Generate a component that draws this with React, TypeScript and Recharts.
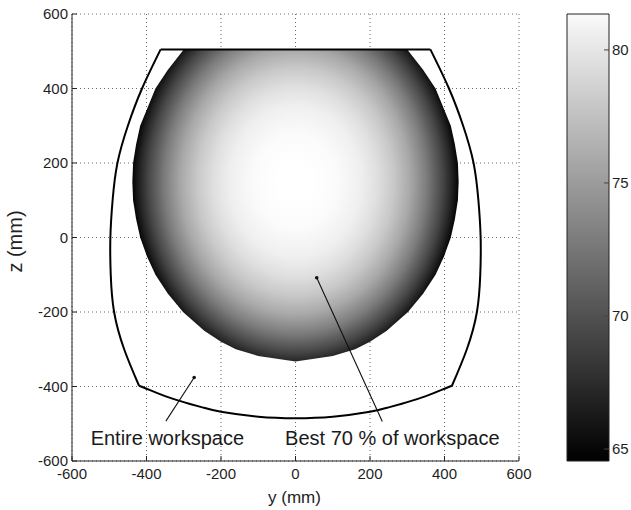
import React from "react";
import {
  ScatterChart,
  Scatter,
  XAxis,
  YAxis,
  CartesianGrid,
  BarChart,
  Bar,
} from "recharts";

const FONT = "'Liberation Sans', Arial, Helvetica, sans-serif";

// axes
const axisTicks = [-600, -400, -200, 0, 200, 400, 600];
const colorTicks = [65, 70, 75, 80];
const colorRange: [number, number] = [64.55, 81.35];

// outline of the entire workspace (y, z in mm)
const outlineTop = [
  { y: -362, z: 505 },
  { y: 362, z: 505 },
];
const outlineRight = [
  { y: 362, z: 505 },
  { y: 412, z: 400 },
  { y: 450, z: 300 },
  { y: 478, z: 200 },
  { y: 491, z: 100 },
  { y: 497, z: 0 },
  { y: 496, z: -100 },
  { y: 487, z: -200 },
  { y: 460, z: -300 },
  { y: 420, z: -398 },
];
const outlineBottom = [
  { y: 420, z: -398 },
  { y: 400, z: -406 },
  { y: 350, z: -426 },
  { y: 300, z: -442 },
  { y: 250, z: -456 },
  { y: 200, z: -468 },
  { y: 100, z: -481 },
  { y: 0, z: -485 },
  { y: -100, z: -481 },
  { y: -200, z: -468 },
  { y: -250, z: -456 },
  { y: -300, z: -442 },
  { y: -350, z: -426 },
  { y: -400, z: -406 },
  { y: -420, z: -398 },
];
const outlineLeft = [
  { y: -420, z: -398 },
  { y: -460, z: -300 },
  { y: -487, z: -200 },
  { y: -496, z: -100 },
  { y: -497, z: 0 },
  { y: -491, z: 100 },
  { y: -478, z: 200 },
  { y: -450, z: 300 },
  { y: -412, z: 400 },
  { y: -362, z: 505 },
];

// best 70 % region boundary
const bestRegion = [
  { y: -300, z: 505 },
  { y: 300, z: 505 },
  { y: 343, z: 450 },
  { y: 376, z: 400 },
  { y: 417, z: 300 },
  { y: 428, z: 250 },
  { y: 436, z: 200 },
  { y: 438, z: 150 },
  { y: 436, z: 100 },
  { y: 428, z: 50 },
  { y: 417, z: 0 },
  { y: 399, z: -50 },
  { y: 376, z: -100 },
  { y: 343, z: -150 },
  { y: 302, z: -200 },
  { y: 245, z: -250 },
  { y: 200, z: -280 },
  { y: 160, z: -300 },
  { y: 100, z: -318 },
  { y: 0, z: -333 },
  { y: -100, z: -318 },
  { y: -160, z: -300 },
  { y: -200, z: -280 },
  { y: -245, z: -250 },
  { y: -302, z: -200 },
  { y: -343, z: -150 },
  { y: -376, z: -100 },
  { y: -399, z: -50 },
  { y: -417, z: 0 },
  { y: -428, z: 50 },
  { y: -436, z: 100 },
  { y: -438, z: 150 },
  { y: -436, z: 200 },
  { y: -428, z: 250 },
  { y: -417, z: 300 },
  { y: -376, z: 400 },
  { y: -343, z: 450 },
  { y: -300, z: 505 },
];

// value falloff from the brightest point (fraction of radius -> value)
const heatCenter = { y: 0, z: 150 };
const heatRadius = { y: 440, z: 510 };
const heatStops = [
  { t: 0, v: 81.35 },
  { t: 0.1, v: 81.33 },
  { t: 0.25, v: 81.08 },
  { t: 0.4, v: 80.28 },
  { t: 0.5, v: 79.25 },
  { t: 0.6, v: 77.72 },
  { t: 0.7, v: 75.59 },
  { t: 0.8, v: 72.75 },
  { t: 0.9, v: 69.1 },
  { t: 0.95, v: 66.95 },
  { t: 1, v: 64.55 },
];

// annotations
const entireArrow = [
  { y: -348, z: -493 },
  { y: -272, z: -376 },
];
const bestArrow = [
  { y: 57, z: -108 },
  { y: 233, z: -494 },
];
const arrowTips = [
  { y: -272, z: -376 },
  { y: 57, z: -108 },
];
const notes = [
  { y: -550, z: -557, text: "Entire workspace" },
  { y: -28, z: -557, text: "Best 70 % of workspace" },
];

const colorBar = [{ name: "value", range: colorRange }];

const gray = (v: number) => {
  const f = (v - colorRange[0]) / (colorRange[1] - colorRange[0]);
  const g = Math.round(Math.max(0, Math.min(1, f)) * 255);
  return `rgb(${g},${g},${g})`;
};

const NoDot = () => <g />;
const TipDot = (p: any) => <circle cx={p.cx} cy={p.cy} r={1.8} fill="#111" />;
const NoteText = (p: any) => (
  <text x={p.cx} y={p.cy} fontSize={20} fontFamily={FONT} fill="#1a1a1a">
    {p.payload.text}
  </text>
);

const tickStyle = { fontSize: 15, fill: "#1f1f1f", fontFamily: FONT };
const outlineLine = { stroke: "#000", strokeWidth: 2, fill: "none" };
const arrowLine = { stroke: "#111", strokeWidth: 1.1, fill: "none" };

export default function App() {
  const ys = bestRegion.map((p) => p.y);
  const zs = bestRegion.map((p) => p.z);
  const minY = Math.min(...ys);
  const maxY = Math.max(...ys);
  const minZ = Math.min(...zs);
  const maxZ = Math.max(...zs);
  const gcx = (heatCenter.y - minY) / (maxY - minY);
  const gcy = (maxZ - heatCenter.z) / (maxZ - minZ);
  const gsx = heatRadius.y / (maxY - minY);
  const gsy = heatRadius.z / (maxZ - minZ);

  return (
    <div
      style={{
        position: "absolute",
        left: 0,
        top: 0,
        width: 631,
        height: 510,
        background: "#fff",
        fontFamily: FONT,
      }}
    >
      <div style={{ position: "absolute", left: 0, top: 0 }}>
        <ScatterChart
          width={540}
          height={510}
          margin={{ top: 14, right: 21, bottom: 0, left: 0 }}
        >
          <defs>
            <radialGradient
              id="heat"
              cx="0"
              cy="0"
              r="1"
              gradientTransform={`translate(${gcx} ${gcy}) scale(${gsx} ${gsy})`}
            >
              {heatStops.map((s) => (
                <stop key={s.t} offset={s.t} stopColor={gray(s.v)} />
              ))}
            </radialGradient>
          </defs>
          <CartesianGrid stroke="#666" strokeDasharray="1 3" />
          <XAxis
            type="number"
            dataKey="y"
            domain={[-600, 600]}
            ticks={axisTicks}
            height={49}
            stroke="#222"
            tick={tickStyle}
            tickSize={-5}
            tickMargin={12}
            label={(p: any) => (
              <text
                x={p.viewBox.x + p.viewBox.width / 2 - 1}
                y={p.viewBox.y + 42}
                textAnchor="middle"
                fontSize={17}
                fontFamily={FONT}
                fill="#222"
              >
                y (mm)
              </text>
            )}
          />
          <YAxis
            type="number"
            dataKey="z"
            domain={[-600, 600]}
            ticks={axisTicks}
            width={72}
            stroke="#222"
            tick={tickStyle}
            tickSize={-5}
            tickMargin={9}
            label={(p: any) => {
              const cx = p.viewBox.x + 22;
              const cy = p.viewBox.y + p.viewBox.height / 2 + 4;
              return (
                <text
                  x={cx}
                  y={cy}
                  transform={`rotate(-90 ${cx} ${cy})`}
                  textAnchor="middle"
                  fontSize={20}
                  fontFamily={FONT}
                  fill="#222"
                >
                  z (mm)
                </text>
              );
            }}
          />
          <Scatter
            data={bestRegion}
            shape={NoDot}
            line={{ fill: "url(#heat)", stroke: "none" }}
            isAnimationActive={false}
          />
          <Scatter data={outlineTop} shape={NoDot} line={outlineLine} isAnimationActive={false} />
          <Scatter
            data={outlineRight}
            shape={NoDot}
            line={outlineLine}
            lineJointType="natural"
            isAnimationActive={false}
          />
          <Scatter
            data={outlineBottom}
            shape={NoDot}
            line={outlineLine}
            lineJointType="natural"
            isAnimationActive={false}
          />
          <Scatter
            data={outlineLeft}
            shape={NoDot}
            line={outlineLine}
            lineJointType="natural"
            isAnimationActive={false}
          />
          <Scatter data={entireArrow} shape={NoDot} line={arrowLine} isAnimationActive={false} />
          <Scatter data={bestArrow} shape={NoDot} line={arrowLine} isAnimationActive={false} />
          <Scatter data={arrowTips} shape={TipDot} isAnimationActive={false} />
          <Scatter data={notes} shape={NoteText} isAnimationActive={false} />
        </ScatterChart>
      </div>
      <div style={{ position: "absolute", left: 540, top: 0 }}>
        <BarChart
          width={91}
          height={510}
          data={colorBar}
          barCategoryGap={0}
          margin={{ top: 14, right: 0, bottom: 49, left: 0 }}
        >
          <defs>
            <linearGradient id="cbar" x1="0" y1="0" x2="0" y2="1">
              <stop offset="0" stopColor="#fafafa" />
              <stop offset="1" stopColor="#000" />
            </linearGradient>
          </defs>
          <XAxis dataKey="name" hide />
          <YAxis
            yAxisId="l"
            orientation="left"
            type="number"
            domain={colorRange}
            ticks={colorTicks}
            width={27}
            axisLine={false}
            tick={false}
            tickSize={-5}
            tickLine={{ stroke: "#444" }}
          />
          <YAxis
            yAxisId="r"
            orientation="right"
            type="number"
            domain={colorRange}
            ticks={colorTicks}
            width={22}
            axisLine={false}
            tick={tickStyle}
            tickSize={-5}
            tickMargin={8}
            tickLine={{ stroke: "#444" }}
          />
          <Bar
            yAxisId="r"
            dataKey="range"
            fill="url(#cbar)"
            stroke="#222"
            strokeWidth={1}
            isAnimationActive={false}
          />
        </BarChart>
      </div>
    </div>
  );
}
